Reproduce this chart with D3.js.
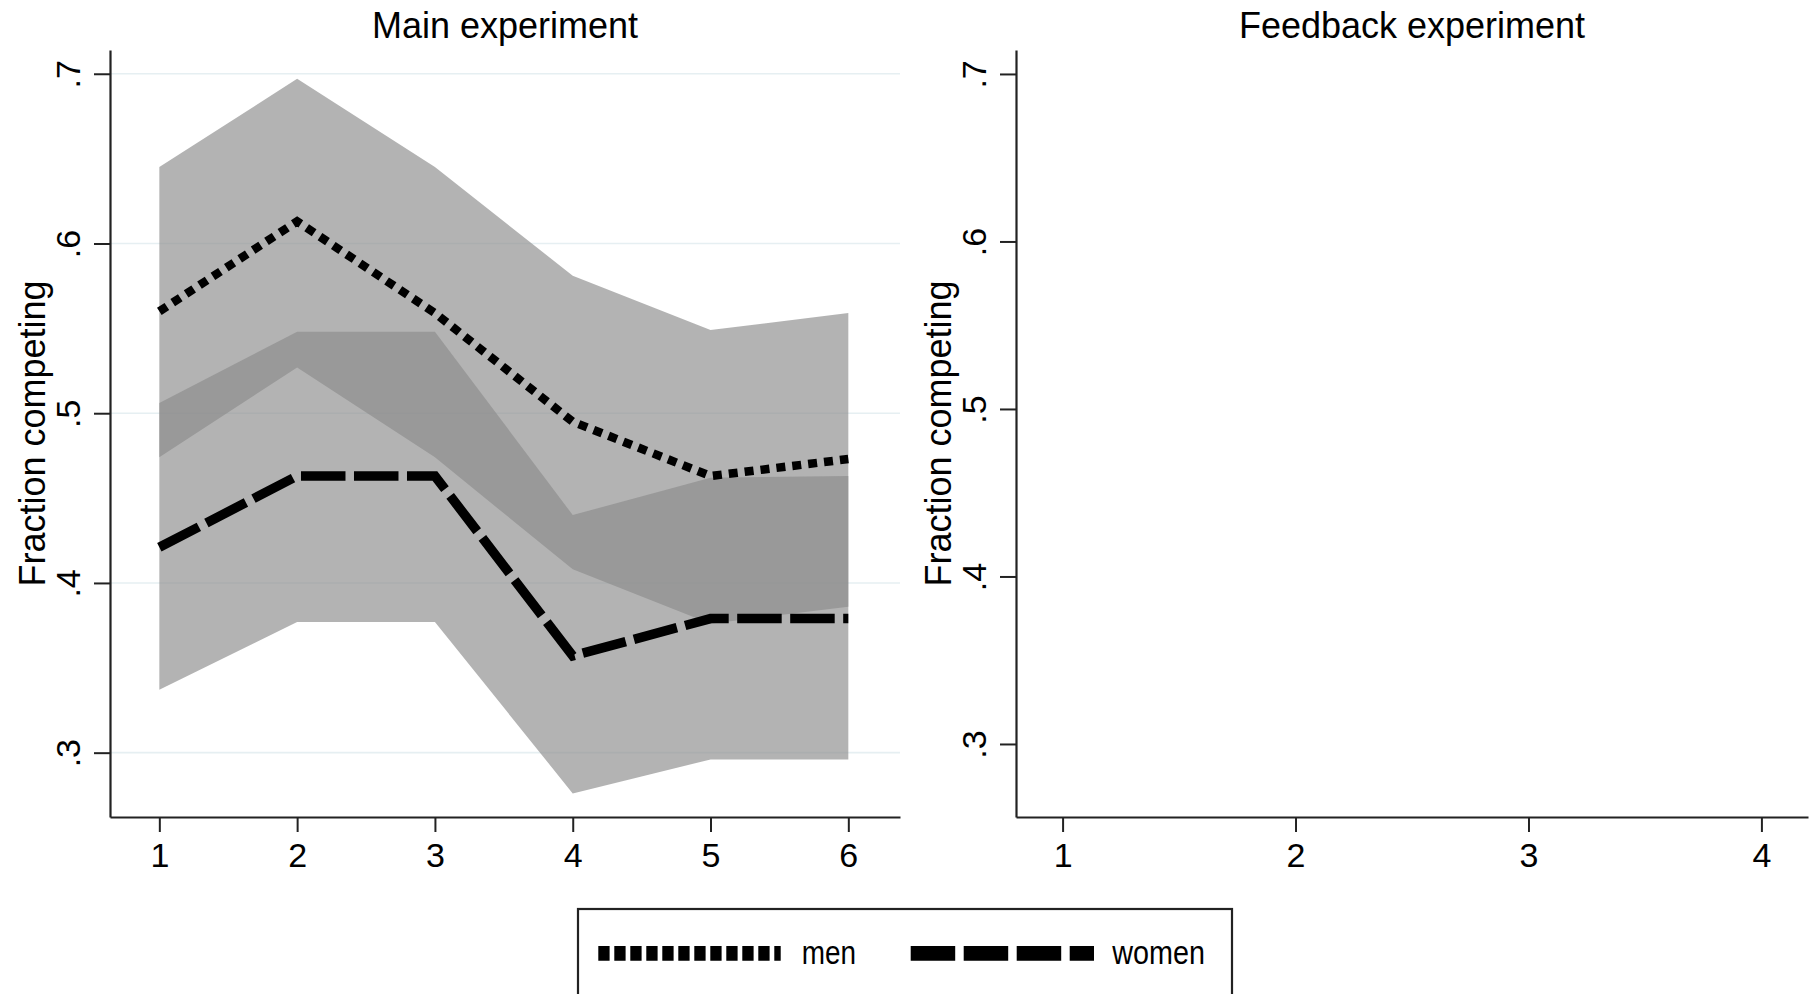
<!DOCTYPE html>
<html>
<head>
<meta charset="utf-8">
<script src="https://cdn.jsdelivr.net/npm/d3@7"></script>
<style>
  html, body { margin: 0; padding: 0; background: #ffffff; }
  svg { display: block; }
  text { font-family: "Liberation Sans", Arial, Helvetica, sans-serif; fill: #000; }
</style>
</head>
<body>
<svg id="chart" width="1814" height="994"></svg>
<script>
// Fraction of participants choosing to compete, by period
const periods = [1, 2, 3, 4, 5, 6];
const menMean    = [0.560, 0.613, 0.559, 0.495, 0.463, 0.473];
const menLower   = [0.474, 0.527, 0.474, 0.408, 0.376, 0.386];
const menUpper   = [0.645, 0.697, 0.645, 0.581, 0.549, 0.559];
const womenMean  = [0.421, 0.463, 0.463, 0.357, 0.379, 0.379];
const womenLower = [0.337, 0.377, 0.377, 0.276, 0.296, 0.296];
const womenUpper = [0.506, 0.548, 0.548, 0.440, 0.462, 0.463];

const feedbackPeriods = [1, 2, 3, 4];
const yTickValues = [0.3, 0.4, 0.5, 0.6, 0.7];
const panelTitles = ["Main experiment", "Feedback experiment"];
const yTitle = "Fraction competing";
const legendLabels = ["men", "women"];

const svg = d3.select("#chart");

// Panel geometry
const panels = [
  { left: 110, right: 900, top: 50, bottom: 817,
    xDomain: [0.642, 6.375], yDomain: [0.2621, 0.7140],
    xTicks: periods, grid: true },
  { left: 1016, right: 1808, top: 50, bottom: 817,
    xDomain: [0.8, 4.2], yDomain: [0.2564, 0.7143],
    xTicks: feedbackPeriods, grid: false }
];

const fmtY = d => d3.format(".1f")(d).replace(/^0/, "");

panels.forEach((p, i) => {
  p.x = d3.scaleLinear().domain(p.xDomain).range([p.left, p.right]);
  p.y = d3.scaleLinear().domain(p.yDomain).range([p.bottom, p.top]);
  const g = svg.append("g");

  // horizontal grid
  if (p.grid) {
    g.append("g").selectAll("line").data(yTickValues).join("line")
      .attr("x1", p.left).attr("x2", p.right)
      .attr("y1", d => p.y(d)).attr("y2", d => p.y(d))
      .attr("stroke", "#e6eff2").attr("stroke-width", 1.6);
  }

  p.g = g;
});

// Confidence bands and mean lines for the main experiment
const P = panels[0];
const rows = periods.map((t, i) => ({
  t, mm: menMean[i], ml: menLower[i], mu: menUpper[i],
  wm: womenMean[i], wl: womenLower[i], wu: womenUpper[i]
}));

const bandLayer = P.g.append("g");
const band = (lo, hi) => d3.area()
  .x(d => P.x(d.t)).y0(d => P.y(d[lo])).y1(d => P.y(d[hi]));

bandLayer.append("path").datum(rows)
  .attr("d", band("ml", "mu"))
  .attr("fill", "rgb(140,140,140)").attr("fill-opacity", 0.658);
bandLayer.append("path").datum(rows)
  .attr("d", band("wl", "wu"))
  .attr("fill", "rgb(140,140,140)").attr("fill-opacity", 0.658);

const line = key => d3.line().x(d => P.x(d.t)).y(d => P.y(d[key]));

P.g.append("path").datum(rows)
  .attr("d", line("mm"))
  .attr("fill", "none").attr("stroke", "#000")
  .attr("stroke-width", 8.5).attr("stroke-dasharray", "9 7")
  .attr("stroke-linejoin", "miter");

P.g.append("path").datum(rows)
  .attr("d", line("wm"))
  .attr("fill", "none").attr("stroke", "#000")
  .attr("stroke-width", 9.5).attr("stroke-dasharray", "44.5 8.5")
  .attr("stroke-linejoin", "miter");

// Axes, titles
panels.forEach((p, i) => {
  const g = p.g;

  const ya = g.append("g")
    .attr("transform", `translate(${p.left},0)`)
    .call(d3.axisLeft(p.y).tickValues(yTickValues).tickFormat(fmtY)
      .tickSize(16).tickSizeOuter(0));
  ya.select(".domain").attr("stroke", "#222").attr("stroke-width", 2.2);
  ya.selectAll(".tick line").attr("stroke", "#222").attr("stroke-width", 2);
  ya.selectAll(".tick text")
    .attr("x", 0).attr("y", 0).attr("dy", 0)
    .attr("transform", "translate(-30,0) rotate(-90)")
    .attr("text-anchor", "middle")
    .style("font-size", "34px");

  const xa = g.append("g")
    .attr("transform", `translate(0,${p.bottom})`)
    .call(d3.axisBottom(p.x).tickValues(p.xTicks).tickFormat(d3.format("d"))
      .tickSize(15).tickSizeOuter(0));
  xa.select(".domain").attr("stroke", "#222").attr("stroke-width", 2.2);
  xa.selectAll(".tick line").attr("stroke", "#222").attr("stroke-width", 2);
  xa.selectAll(".tick text")
    .attr("y", 50).attr("dy", 0)
    .style("font-size", "34px");

  svg.selectAll(".domain, .tick text").attr("fill", null);
  g.selectAll(".tick text").attr("fill", "#000");

  g.append("text")
    .attr("x", (p.left + p.right) / 2).attr("y", 37.5)
    .attr("text-anchor", "middle")
    .style("font-size", "36px")
    .text(panelTitles[i]);

  g.append("text")
    .attr("transform", `translate(${p.left - 65},${(p.top + p.bottom) / 2}) rotate(-90)`)
    .attr("text-anchor", "middle")
    .style("font-size", "36px")
    .text(yTitle);
});

// Legend
const lg = svg.append("g");
lg.append("rect")
  .attr("x", 578).attr("y", 909).attr("width", 654).attr("height", 120)
  .attr("fill", "#fff").attr("stroke", "#222").attr("stroke-width", 2.2);

lg.append("line")
  .attr("x1", 598.3).attr("x2", 780.7).attr("y1", 953.3).attr("y2", 953.3)
  .attr("stroke", "#000").attr("stroke-width", 14.7)
  .attr("stroke-dasharray", "11.3 4.7");
lg.append("text")
  .attr("x", 801.7).attr("y", 964)
  .attr("textLength", 54.3).attr("lengthAdjust", "spacingAndGlyphs")
  .style("font-size", "33px")
  .text(legendLabels[0]);

lg.append("line")
  .attr("x1", 910.7).attr("x2", 1094).attr("y1", 953.3).attr("y2", 953.3)
  .attr("stroke", "#000").attr("stroke-width", 14.7)
  .attr("stroke-dasharray", "44.5 8.5");
lg.append("text")
  .attr("x", 1112.3).attr("y", 964)
  .attr("textLength", 92.7).attr("lengthAdjust", "spacingAndGlyphs")
  .style("font-size", "33px")
  .text(legendLabels[1]);
</script>
</body>
</html>
